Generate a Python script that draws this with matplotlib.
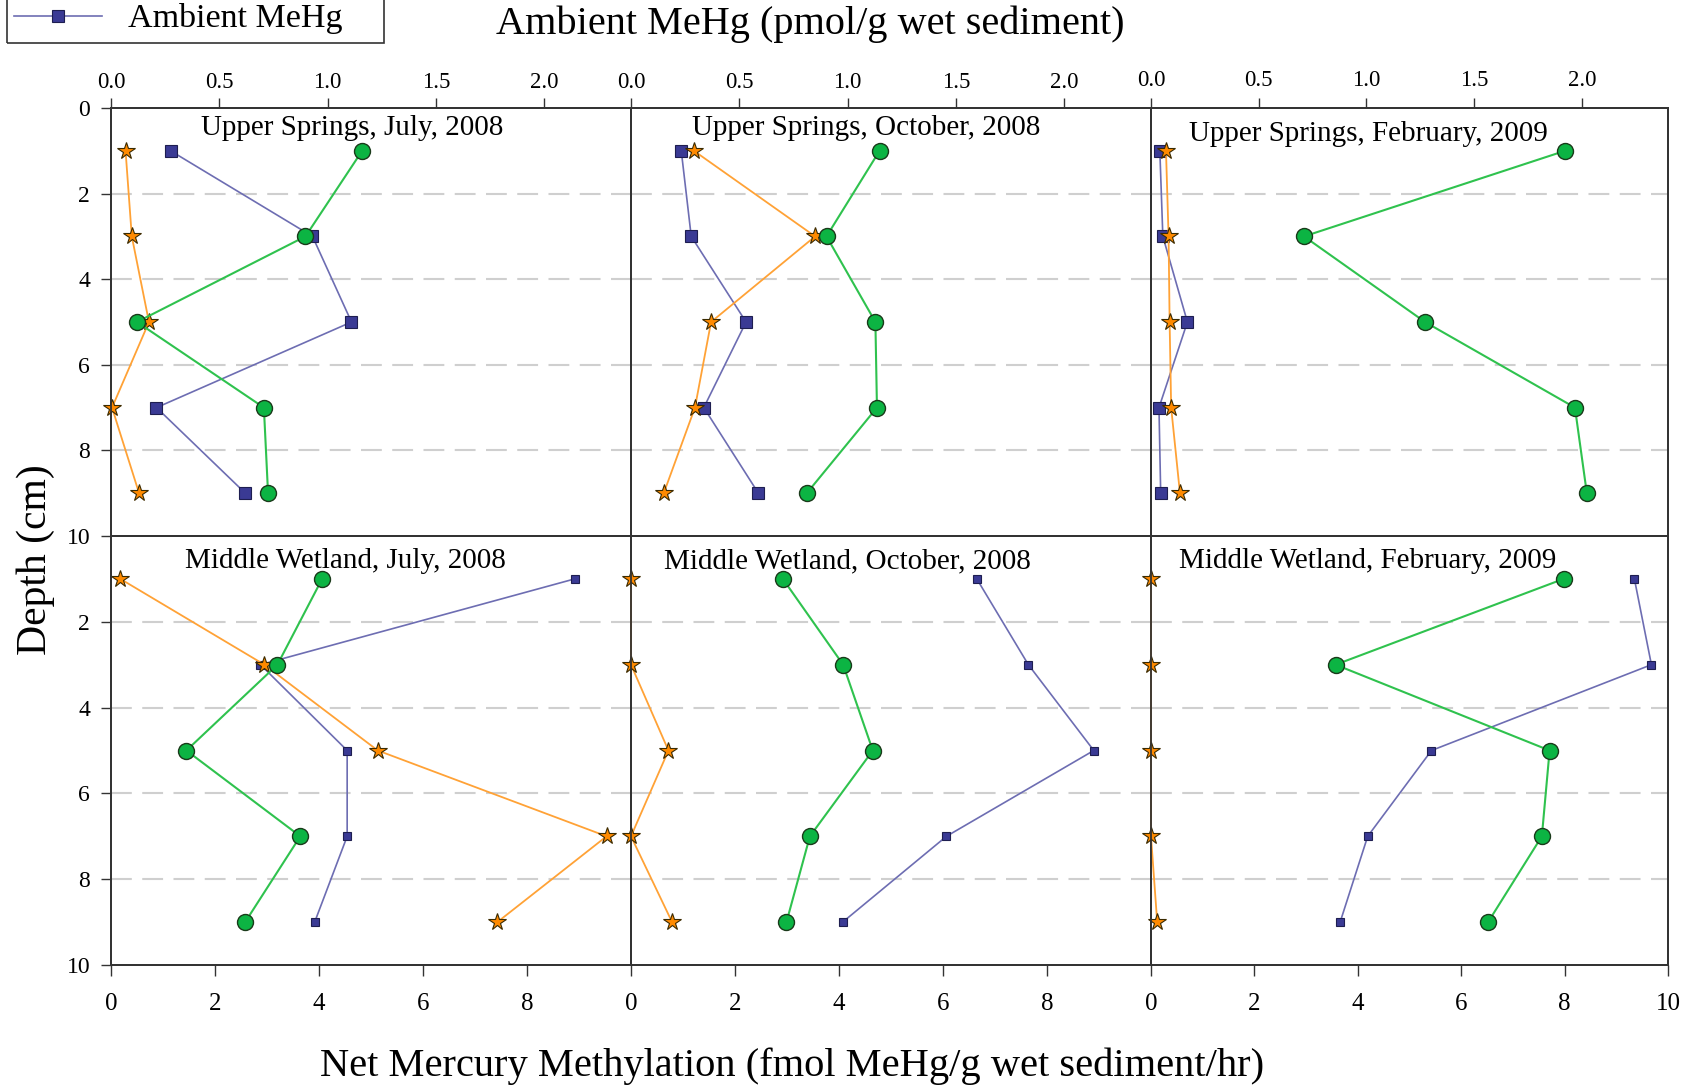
import matplotlib
matplotlib.use("Agg")
import matplotlib.pyplot as plt
from matplotlib.lines import Line2D
from matplotlib.patches import Rectangle

plt.rcParams['font.family'] = ['Liberation Serif', 'DejaVu Serif']

W, H = 1690, 1088
DPI = 100

DEPTH = [1, 3, 5, 7, 9]

TITLES = ["Upper Springs, July, 2008", "Upper Springs, October, 2008",
          "Upper Springs, February, 2009", "Middle Wetland, July, 2008",
          "Middle Wetland, October, 2008", "Middle Wetland, February, 2009"]

# green circles: net methylation (fmol MeHg/g wet sediment/hr, bottom axis)
us_jul_meth = [4.83, 3.74, 0.50, 2.94, 3.02]
us_oct_meth = [4.78, 3.76, 4.70, 4.73, 3.38]
us_feb_meth = [8.01, 2.96, 5.30, 8.20, 8.43]
mw_jul_meth = [4.06, 3.20, 1.45, 3.64, 2.58]
mw_oct_meth = [2.92, 4.08, 4.65, 3.44, 2.99]
mw_feb_meth = [7.98, 3.57, 7.71, 7.56, 6.52]

# orange stars (bottom axis)
us_jul_star = [0.28, 0.40, 0.73, 0.02, 0.54]
us_oct_star = [1.21, 3.54, 1.54, 1.23, 0.63]
us_feb_star = [0.29, 0.34, 0.36, 0.39, 0.56]
mw_jul_star = [0.18, 2.95, 5.13, 9.53, 7.43]
mw_oct_star = [0.00, 0.00, 0.72, 0.00, 0.79]
mw_feb_star = [0.00, 0.00, 0.00, 0.00, 0.12]

# blue squares: ambient MeHg (pmol/g wet sediment, top axis)
us_jul_mehg = [0.275, 0.93, 1.11, 0.21, 0.62]
us_oct_mehg = [0.232, 0.278, 0.531, 0.336, 0.588]
us_feb_mehg = [0.041, 0.055, 0.169, 0.037, 0.045]
mw_jul_mehg = [2.14, 0.69, 1.09, 1.09, 0.94]
mw_oct_mehg = [1.596, 1.834, 2.136, 1.456, 0.977]
mw_feb_mehg = [2.244, 2.323, 1.302, 1.006, 0.878]

METH = [us_jul_meth, us_oct_meth, us_feb_meth, mw_jul_meth, mw_oct_meth, mw_feb_meth]
STAR = [us_jul_star, us_oct_star, us_feb_star, mw_jul_star, mw_oct_star, mw_feb_star]
MEHG = [us_jul_mehg, us_oct_mehg, us_feb_mehg, mw_jul_mehg, mw_oct_mehg, mw_feb_mehg]

TOP_TICKS = [0.0, 0.5, 1.0, 1.5, 2.0]
TOP_LABELS = ["0.0", "0.5", "1.0", "1.5", "2.0"]
BOT_TICKS = [0, 2, 4, 6, 8, 10]
BOT_LABELS = ["0", "2", "4", "6", "8", "10"]
DEPTH_TICKS = [0, 2, 4, 6, 8, 10]
DEPTH_LABELS = ["0", "2", "4", "6", "8", "10"]

GREEN_FILL, GREEN_LINE = "#0cb443", "#2fc24e"
ORANGE_FILL, ORANGE_LINE = "#ff8a00", "#ffa236"
BLUE_FILL, BLUE_LINE = "#3a3a94", "#6d6db2"
SPINE = "#333333"

# panel geometry in pixels (left, top, width, height)
COL_LEFT = [111, 631, 1151]
COL_W = [520, 520, 517]
ROW_TOP = [108, 536]
ROW_H = [428, 429]
TITLE_POS = [(0.463, 0.953), (0.452, 0.953), (0.42, 0.94),
             (0.45, 0.942), (0.416, 0.942), (0.42, 0.942)]

fig = plt.figure(figsize=(W / DPI, H / DPI), dpi=DPI)

for i in range(6):
    r, c = divmod(i, 3)
    l, t, w, h = COL_LEFT[c], ROW_TOP[r], COL_W[c], ROW_H[r]
    ax = fig.add_axes([l / W, 1 - (t + h) / H, w / W, h / H])
    top = ax.twiny()
    ax.set_zorder(top.get_zorder() + 1)
    ax.patch.set_visible(False)

    ax.set_xlim(0, 10)
    ax.set_ylim(10, 0)
    top.set_xlim(0, 2.4)

    for d in [2, 4, 6, 8]:
        top.axhline(d, color="#cfcfcf", lw=1.5, ls=(0, (10, 5)), zorder=0)

    sq = 8.5 if r == 0 else 6.2
    top.plot(MEHG[i], DEPTH, "-", color=BLUE_LINE, lw=1.2, marker="s",
             ms=sq, mfc=BLUE_FILL, mec="#1e1e50", mew=0.8, clip_on=False)
    ax.plot(STAR[i], DEPTH, "-", color=ORANGE_LINE, lw=1.3, marker="*",
            ms=13, mfc=ORANGE_FILL, mec="#3a2a00", mew=0.8, clip_on=False)
    ax.plot(METH[i], DEPTH, "-", color=GREEN_LINE, lw=1.5, marker="o",
            ms=11.5, mfc=GREEN_FILL, mec="#1a3a1a", mew=1.0, clip_on=False)

    ax.text(TITLE_POS[i][0], TITLE_POS[i][1], TITLES[i], transform=ax.transAxes,
            ha="center", va="center", fontsize=21, zorder=5)

    for a in (ax, top):
        for s in a.spines.values():
            s.set_color(SPINE)
            s.set_linewidth(1.3)

    # bottom axis
    ax.tick_params(axis="x", direction="out", length=8, width=1, color=SPINE,
                   labelsize=18, pad=12, bottom=(r == 1), labelbottom=(r == 1))
    if r == 1:
        n = 6 if c == 2 else 5
        ax.set_xticks(BOT_TICKS[:n])
        ax.set_xticklabels(BOT_LABELS[:n])
    else:
        ax.set_xticks([])

    # top axis
    if r == 0:
        top.set_xticks(TOP_TICKS)
        top.set_xticklabels(TOP_LABELS)
        top.tick_params(axis="x", direction="out", length=7, width=1,
                        color=SPINE, labelsize=16.5, pad=4 if c < 2 else 5.5)
    else:
        top.set_xticks([])

    # depth axis
    if c == 0:
        k = 0 if r == 0 else 1
        ax.set_yticks(DEPTH_TICKS[k:])
        ax.set_yticklabels(DEPTH_LABELS[k:])
        ax.tick_params(axis="y", direction="out", length=7, width=1,
                       color=SPINE, labelsize=17, pad=8)
    else:
        ax.tick_params(axis="y", left=False, labelleft=False)

fig.text(810 / W, 1 - 24 / H, "Ambient MeHg (pmol/g wet sediment)",
         ha="center", va="center", fontsize=29)
fig.text(792 / W, 1 - 1066 / H, "Net Mercury Methylation (fmol MeHg/g wet sediment/hr)",
         ha="center", va="center", fontsize=29.2)
fig.text(36 / W, 1 - 560 / H, "Depth (cm)", ha="center", va="center",
         rotation=90, fontsize=30)

# legend box (its upper part runs off the figure edge, as in the source)
handle = Line2D([], [], color=BLUE_LINE, lw=1.2, marker="s", ms=8.5,
                mfc=BLUE_FILL, mec="#1e1e50", mew=0.8)
fig.legend([handle], ["Ambient MeHg"], loc="center left",
           bbox_to_anchor=(14 / W, 1 - 19 / H), borderaxespad=0, borderpad=0,
           frameon=False, fontsize=24.5, handlelength=2.6, handletextpad=0.75)
fig.patches.append(Rectangle((7.5 / W, 1 - 43 / H), 377 / W, 60 / H,
                             transform=fig.transFigure, fill=False,
                             edgecolor=SPINE, lw=1.2))

fig.savefig("out.png", dpi=DPI)
